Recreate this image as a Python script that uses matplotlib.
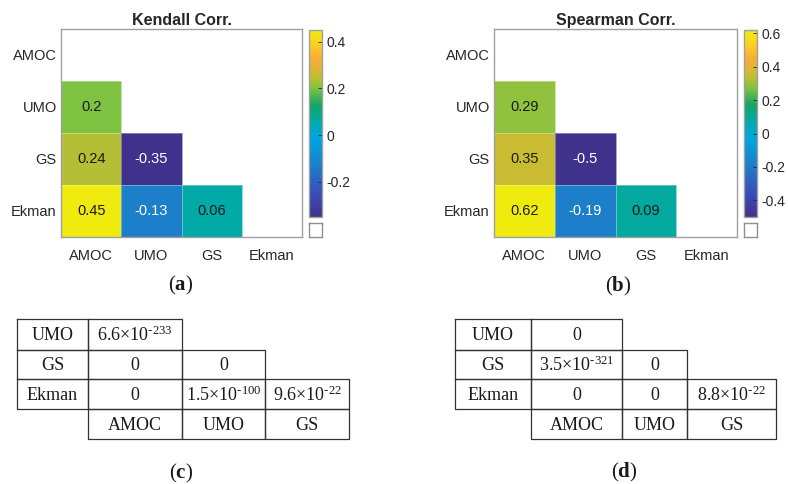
import numpy as np
import matplotlib
matplotlib.use("Agg")
import matplotlib.pyplot as plt
from matplotlib.colors import LinearSegmentedColormap

plt.rcParams['font.family'] = ['Liberation Sans', 'DejaVu Sans']
plt.rcParams['axes.unicode_minus'] = False
plt.rcParams['mathtext.fontset'] = 'custom'
plt.rcParams['mathtext.rm'] = 'Liberation Serif'
plt.rcParams['mathtext.it'] = 'Liberation Serif:italic'
plt.rcParams['mathtext.bf'] = 'Liberation Serif:bold'

# variables (same order on both axes)
names = ['AMOC', 'UMO', 'GS', 'Ekman']

# lower triangle of the correlation matrices, row by row
kendall_low = [[0.2], [0.24, -0.35], [0.45, -0.13, 0.06]]
spearman_low = [[0.29], [0.35, -0.5], [0.62, -0.19, 0.09]]

# p-values for the tables, same layout
kendall_p = [['6.6e-233'], ['0', '0'], ['0', '1.5e-100', '9.6e-22']]
spearman_p = [['0'], ['3.5e-321', '0'], ['0', '0', '8.8e-22']]

kendall_ticks = [-0.2, 0, 0.2, 0.4]
spearman_ticks = [-0.4, -0.2, 0, 0.2, 0.4, 0.6]

# parula-like map
parula = LinearSegmentedColormap.from_list('parula_ish', [
    (0.00, (62/255, 50/255, 140/255)),
    (0.12, (60/255, 75/255, 185/255)),
    (0.27, (30/255, 125/255, 200/255)),
    (0.42, (0/255, 165/255, 225/255)),
    (0.51, (0/255, 170/255, 170/255)),
    (0.60, (20/255, 165/255, 100/255)),
    (0.69, (125/255, 195/255, 65/255)),
    (0.75, (195/255, 190/255, 50/255)),
    (0.85, (250/255, 172/255, 55/255)),
    (0.93, (250/255, 210/255, 35/255)),
    (1.00, (240/255, 235/255, 15/255)),
])

W, H = 788, 484
fig = plt.figure(figsize=(W/100, H/100), dpi=100)


def box(x0, y0, x1, y1):
    return [x0/W, 1 - y1/H, (x1 - x0)/W, (y1 - y0)/H]


def full_matrix(low):
    n = len(names)
    m = np.ma.masked_all((n, n))
    for i, row in enumerate(low):
        for j, v in enumerate(row):
            m[i + 1, j] = v
    return m


def heatmap(pos, cpos, mpos, low, ticks, title):
    ax = fig.add_axes(box(*pos))
    data = full_matrix(low)
    vmin, vmax = data.min(), data.max()
    mesh = ax.pcolormesh(np.arange(5), np.arange(5), data, cmap=parula,
                         vmin=vmin, vmax=vmax, edgecolors=(1, 1, 1, 0.35),
                         linewidth=0.5)
    ax.set_xlim(0, 4)
    ax.set_ylim(4, 0)
    ax.set_xticks(np.arange(4) + 0.5)
    ax.set_yticks(np.arange(4) + 0.5)
    ax.set_xticklabels(names)
    ax.set_yticklabels(names)
    ax.tick_params(length=0, labelsize=10.5, colors='#262626')
    ax.tick_params(axis='x', pad=9)
    ax.tick_params(axis='y', pad=3)
    for s in ax.spines.values():
        s.set_color('#a0a0a0')
        s.set_linewidth(1)
    ax.set_title(title, fontsize=11.5, fontweight='bold', pad=3, color='#262626')
    for i, row in enumerate(low):
        for j, v in enumerate(row):
            ax.text(j + 0.5, i + 1.5, '{:.2g}'.format(v), ha='center', va='center',
                    fontsize=10.5, color='white' if v < 0 else '#1a1a1a')

    cax = fig.add_axes(box(*cpos))
    cb = fig.colorbar(mesh, cax=cax, ticks=ticks)
    cb.ax.set_yticklabels(['{:g}'.format(t) for t in ticks])
    cb.ax.tick_params(direction='in', length=3, width=0.6, colors='#262626',
                      labelsize=10, pad=3)
    cb.outline.set_edgecolor('#a0a0a0')
    cb.outline.set_linewidth(1)

    # box for missing data
    nan_ax = fig.add_axes(box(*mpos))
    nan_ax.set_xticks([])
    nan_ax.set_yticks([])
    for s in nan_ax.spines.values():
        s.set_color('#909090')
        s.set_linewidth(1)


heatmap((61, 29, 302, 237), (309, 30, 322, 217), (309, 223, 322, 237),
        kendall_low, kendall_ticks, 'Kendall Corr.')
heatmap((494, 29, 737, 237), (744, 30, 757, 217), (744, 223, 757, 237),
        spearman_low, spearman_ticks, 'Spearman Corr.')

# overlay for tables and panel letters, pixel coordinates
ov = fig.add_axes([0, 0, 1, 1])
ov.set_xlim(0, W)
ov.set_ylim(H, 0)
ov.axis('off')


def sci(s):
    # 6.6e-233 -> 6.6x10^-233, short hyphen in the exponent
    if 'e' not in s:
        return s
    mant, ex = s.split('e')
    ex = str(int(ex)).replace('-', '\u2010')
    return mant + '×10$^{' + ex + '}$'


def table(xs, ys, pvals):
    kw = dict(ha='center', va='center', fontsize=13, color='#1a1a1a',
              family='Liberation Serif')
    line = dict(color='#333333', lw=0.9)
    for i, row in enumerate(pvals):
        y0, y1 = ys[i], ys[i + 1]
        cells = [names[i + 1]] + [sci(p) for p in row]
        for k, txt in enumerate(cells):
            x0, x1 = xs[k], xs[k + 1]
            ov.plot([x0, x1, x1, x0, x0], [y0, y0, y1, y1, y0], **line)
            ov.text((x0 + x1)/2, (y0 + y1)/2 + 1, txt, **kw)
    y0, y1 = ys[-2], ys[-1]
    for k, txt in enumerate(names[:3]):
        x0, x1 = xs[k + 1], xs[k + 2]
        ov.plot([x0, x1, x1, x0, x0], [y0, y0, y1, y1, y0], **line)
        ov.text((x0 + x1)/2, (y0 + y1)/2 + 1, txt, **kw)


rows_y = [319, 350, 379, 409, 439]
table([17, 88, 182, 265, 349], rows_y, kendall_p)
table([455, 531, 622, 687, 776], rows_y, spearman_p)

for x, y, letter in [(181, 285, 'a'), (618, 286, 'b'), (181, 473, 'c'), (624, 472, 'd')]:
    ov.text(x, y, r'$(\mathbf{' + letter + '})$', ha='center', va='center',
            fontsize=15, color='#1a1a1a')

fig.savefig('out.png', dpi=100)
